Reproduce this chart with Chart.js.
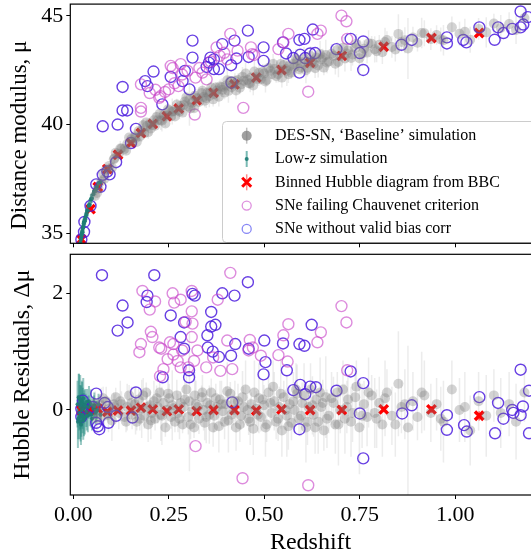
<!DOCTYPE html>
<html>
<head>
<meta charset="utf-8">
<script src="https://cdn.jsdelivr.net/npm/chart.js@4.4.1/dist/chart.umd.min.js"></script>
<style>
  body { margin: 0; background: #fff; overflow: hidden; width: 531px; height: 558px; position: relative; }
  #hubble { position: absolute; left: 0; top: 0; }
  #resid { position: absolute; left: 0; top: 250px; }
</style>
</head>
<body>
<canvas id="hubble" width="600" height="260" style="width:600px;height:260px"></canvas>
<canvas id="resid" width="600" height="308" style="width:600px;height:308px"></canvas>
<script>
// ---- data ----
const xTicks = [0, 0.25, 0.5, 0.75, 1.0];
const muTicks = [35, 40, 45];
const resTicks = [0, 2];

const legendLabels = [
  "DES-SN, \u2018Baseline\u2019 simulation",
  "Low-z simulation",
  "Binned Hubble diagram from BBC",
  "SNe failing Chauvenet criterion",
  "SNe without valid bias corr"
];

// binned Hubble diagram (red crosses)
const binZ = [0.021, 0.045, 0.064, 0.089, 0.117, 0.151, 0.177, 0.208, 0.245, 0.276,
  0.323, 0.367, 0.422, 0.479, 0.545, 0.62, 0.703, 0.8125, 0.9375, 1.0625];
const binMu = [34.72, 36.11, 37.13, 37.95, 38.61, 39.15, 39.61, 40.03, 40.38, 40.74,
  41.12, 41.46, 41.85, 42.16, 42.51, 42.84, 43.16, 43.58, 43.98, 44.21];
const binRes = [0.0, 0.01, 0.02, -0.03, -0.01, -0.01, 0.04, 0.01, -0.02, 0.01,
  -0.02, 0.0, 0.0, -0.01, 0.01, 0.0, 0.0, 0.01, 0.01, -0.1];
const binErr = [0.05, 0.04, 0.04, 0.03, 0.03, 0.03, 0.03, 0.03, 0.03, 0.03,
  0.03, 0.03, 0.03, 0.03, 0.03, 0.04, 0.04, 0.05, 0.06, 0.08];

// DES-SN baseline simulation (grey)
const desZ = [0.057, 0.066, 0.073, 0.081, 0.086, 0.094, 0.101, 0.106, 0.111, 0.119,
  0.126, 0.134, 0.141, 0.146, 0.154, 0.161, 0.166, 0.171, 0.179, 0.186,
  0.191, 0.196, 0.201, 0.206, 0.211, 0.214, 0.221, 0.226, 0.229, 0.236,
  0.241, 0.244, 0.251, 0.256, 0.259, 0.266, 0.271, 0.274, 0.281, 0.286,
  0.289, 0.296, 0.301, 0.304, 0.311, 0.316, 0.321, 0.329, 0.336, 0.341,
  0.344, 0.351, 0.356, 0.361, 0.369, 0.376, 0.381, 0.384, 0.391, 0.399,
  0.406, 0.411, 0.419, 0.426, 0.431, 0.439, 0.446, 0.451, 0.459, 0.466,
  0.471, 0.479, 0.486, 0.491, 0.499, 0.506, 0.511, 0.519, 0.526, 0.531,
  0.539, 0.546, 0.551, 0.559, 0.566, 0.571, 0.579, 0.586, 0.591, 0.599,
  0.609, 0.616, 0.621, 0.629, 0.636, 0.641, 0.649, 0.656, 0.661, 0.669,
  0.681, 0.686, 0.691, 0.699, 0.711, 0.719, 0.731, 0.741, 0.749, 0.761,
  0.769, 0.781, 0.789, 0.801, 0.809, 0.821, 0.834, 0.851, 0.859, 0.876,
  0.889, 0.901, 0.919, 0.936, 0.951, 0.969, 0.991, 1.011, 1.039, 1.061,
  1.081, 1.101, 1.119, 1.141, 1.159, 1.181,
  0.062, 0.078, 0.092, 0.108, 0.123, 0.138, 0.152, 0.163, 0.174, 0.183,
  0.193, 0.203, 0.218, 0.232, 0.248, 0.262, 0.278, 0.292, 0.307, 0.318,
  0.326, 0.338, 0.348, 0.358, 0.366, 0.373, 0.388, 0.396, 0.403, 0.414,
  0.423, 0.436, 0.443, 0.456, 0.463, 0.474, 0.483, 0.496, 0.503, 0.516,
  0.523, 0.536, 0.543, 0.556, 0.563, 0.576, 0.583, 0.596, 0.604, 0.613,
  0.626, 0.633, 0.646, 0.653, 0.664, 0.676, 0.694, 0.706, 0.716, 0.727,
  0.738, 0.756, 0.773, 0.794, 0.816, 0.843, 0.868, 0.912, 0.962, 1.025];
const desMu = [36.72, 37.05, 37.38, 37.5, 37.93, 38.1, 38.02, 38.4, 38.7, 38.65,
  38.9, 38.88, 39.1, 39.4, 39.2, 39.45, 39.2, 39.7, 39.7, 39.6,
  40.1, 39.65, 40.05, 39.98, 40.2, 39.95, 40.2, 40.5, 40.2, 40.42,
  40.05, 40.4, 40.65, 40.38, 40.6, 40.37, 40.92, 40.65, 40.87, 40.55,
  40.9, 41.25, 40.83, 41.15, 41.0, 40.75, 41.23, 41.04, 41.45, 41.27,
  41.1, 41.47, 41.3, 41.7, 41.4, 41.57, 41.28, 41.75, 41.6, 41.8,
  41.55, 42.0, 41.85, 41.57, 42.05, 41.85, 42.02, 42.35, 41.9, 42.17,
  41.8, 42.18, 42.38, 42.08, 42.35, 42.05, 42.6, 42.32, 42.55, 42.22,
  42.5, 42.16, 42.74, 42.47, 42.7, 42.39, 42.65, 42.95, 42.55, 42.87,
  42.5, 42.84, 43.15, 42.8, 43.08, 42.72, 43.0, 42.62, 43.2, 42.9,
  43.16, 42.8, 43.43, 43.15, 43.04, 43.41, 43.22, 43.71, 43.05, 43.49,
  43.31, 43.72, 43.46, 43.67, 43.33, 43.89, 43.57, 44.17, 43.8, 43.5,
  44.0, 43.76, 44.2, 43.93, 44.12, 43.88, 44.47, 44.18, 43.9, 44.4,
  44.24, 44.65, 44.44, 44.62, 44.35, 44.9,
  36.85, 37.75, 37.92, 38.45, 38.9, 38.8, 39.32, 39.38, 39.45, 39.97,
  39.93, 39.82, 40.35, 40.18, 40.7, 40.6, 40.6, 41.06, 40.75, 41.33,
  41.2, 41.55, 41.21, 41.48, 41.16, 41.7, 41.72, 41.47, 42.04, 41.72,
  42.01, 41.69, 42.2, 42.05, 41.89, 42.44, 42.1, 42.43, 41.98, 42.47,
  42.79, 42.31, 42.78, 42.56, 42.31, 42.8, 43.03, 42.63, 43.02, 42.61,
  42.94, 42.59, 43.24, 43.09, 42.86, 43.26, 42.88, 43.53, 43.27, 43.06,
  43.52, 43.27, 43.74, 43.37, 43.8, 43.45, 43.88, 44.21, 43.91, 44.27];
const desRes = [0.12, -0.05, 0.08, -0.1, 0.15, 0.02, -0.18, 0.1, 0.22, -0.05,
  0.1, -0.12, 0.05, 0.25, -0.08, 0.1, -0.2, 0.18, 0.02, -0.1,
  0.3, -0.25, 0.08, -0.05, 0.15, -0.15, 0.05, 0.3, -0.08, 0.12,
  -0.3, 0.0, 0.2, -0.12, 0.08, -0.2, 0.25, -0.05, 0.12, -0.25,
  0.05, 0.35, -0.12, 0.15, -0.02, -0.3, 0.1, -0.15, 0.22, 0.0,
  -0.22, 0.12, -0.08, 0.3, -0.1, 0.05, -0.28, 0.18, -0.02, 0.1,
  -0.18, 0.28, 0.0, -0.3, 0.15, -0.1, 0.05, 0.35, -0.15, 0.1,
  -0.32, 0.02, 0.2, -0.12, 0.08, -0.25, 0.3, -0.05, 0.15, -0.2,
  0.05, -0.35, 0.22, -0.1, 0.1, -0.22, 0.0, 0.28, -0.15, 0.12,
  -0.3, 0.05, 0.35, -0.08, 0.18, -0.2, 0.05, -0.35, 0.22, -0.1,
  0.12, -0.25, 0.3, 0.0, -0.15, 0.18, -0.05, 0.4, -0.3, 0.1,
  -0.12, 0.25, -0.05, 0.12, -0.25, 0.3, -0.1, 0.45, 0.05, -0.3,
  0.15, -0.12, 0.25, -0.05, 0.1, -0.2, 0.35, 0.0, -0.35, 0.15,
  -0.1, 0.25, -0.05, 0.1, -0.2, 0.3,
  -0.15, 0.2, -0.08, 0.05, 0.15, -0.2, 0.12, -0.02, -0.15, 0.25,
  0.05, -0.18, 0.2, -0.1, 0.28, 0.03, -0.15, 0.18, -0.25, 0.25,
  0.05, 0.3, -0.12, 0.08, -0.3, 0.2, 0.1, -0.2, 0.32, -0.08,
  0.15, -0.25, 0.22, 0.0, -0.2, 0.3, -0.08, 0.18, -0.3, 0.12,
  0.4, -0.15, 0.28, 0.0, -0.28, 0.15, 0.35, -0.1, 0.25, -0.2,
  0.08, -0.3, 0.3, 0.12, -0.15, 0.2, -0.25, 0.35, 0.05, -0.2,
  0.22, -0.1, 0.3, -0.15, 0.2, -0.25, 0.1, 0.3, -0.15, 0.05];
const desErr = [0.2, 0.15, 0.3, 0.18, 0.25, 0.12, 0.35, 0.2, 0.16, 0.28,
  0.22, 0.14, 0.4, 0.18, 0.25, 0.3, 0.15, 0.2, 0.5, 0.22,
  0.17, 0.3, 0.24, 0.15, 0.35, 0.2, 0.28, 0.18, 0.45, 0.22,
  0.16, 0.3, 0.25, 0.2, 0.6, 0.18, 0.27, 0.33, 0.2, 0.15,
  0.38, 0.24, 0.3, 1.2, 0.22, 0.18, 0.4, 0.26, 0.2, 0.35,
  0.3, 0.16, 0.5, 0.24, 0.28, 0.2, 0.45, 0.32, 0.22, 0.3,
  0.55, 0.2, 0.26, 0.4, 0.3, 0.24, 0.35, 0.5, 0.28, 0.2,
  0.45, 0.3, 0.6, 0.25, 0.35, 0.3, 0.4, 0.22, 0.5, 0.3,
  0.35, 0.45, 0.28, 0.7, 0.32, 0.3, 0.4, 0.5, 0.26, 0.35,
  0.6, 0.3, 0.45, 0.38, 0.3, 0.55, 0.4, 0.35, 0.7, 0.3,
  0.45, 0.5, 0.35, 0.4, 0.6, 0.38, 0.5, 0.45, 0.8, 0.4,
  0.5, 0.35, 0.6, 0.45, 0.55, 0.4, 0.5, 0.9, 0.45, 1.4,
  0.5, 0.4, 0.6, 0.5, 0.45, 0.7, 0.5, 0.55, 0.6, 0.5,
  0.7, 0.45, 0.6, 0.55, 0.65, 0.5,
  0.25, 0.2, 0.3, 0.22, 0.35, 0.18, 0.28, 0.4, 0.2, 0.3,
  0.25, 0.32, 0.22, 0.5, 0.28, 0.2, 0.35, 0.3, 0.25, 0.4,
  0.22, 0.3, 0.45, 0.28, 0.33, 0.25, 0.4, 0.3, 0.5, 0.26,
  0.35, 0.3, 0.45, 0.28, 0.4, 0.55, 0.3, 0.35, 0.5, 0.3,
  0.45, 0.38, 0.6, 0.35, 0.4, 0.5, 0.45, 0.35, 0.55, 0.4,
  0.5, 0.45, 0.6, 0.4, 0.5, 0.45, 0.7, 0.5, 0.45, 0.6,
  0.5, 0.55, 0.6, 0.5, 0.65, 0.55, 0.6, 0.7, 0.55, 0.6];

// low-z simulation (teal)
const lowZ = [0.011, 0.013, 0.015, 0.016, 0.018, 0.019, 0.02, 0.021, 0.022, 0.023,
  0.024, 0.025, 0.026, 0.027, 0.029, 0.03, 0.032, 0.034, 0.036, 0.038,
  0.04, 0.043, 0.046, 0.049, 0.052, 0.055, 0.058, 0.062, 0.066, 0.071,
  0.012, 0.014, 0.017, 0.018, 0.02, 0.022, 0.024, 0.026, 0.028, 0.031,
  0.035, 0.041, 0.047, 0.054, 0.06];
const lowMu = [33.5, 33.75, 34.15, 34.25, 34.55, 34.55, 34.75, 34.8, 34.95, 35.05,
  35.05, 35.25, 35.25, 35.45, 35.55, 35.55, 35.75, 35.85, 36.05, 36.05,
  36.25, 36.3, 36.55, 36.6, 36.8, 36.95, 36.95, 37.15, 37.3, 37.35,
  33.7, 34.0, 34.35, 34.45, 34.7, 34.9, 35.1, 35.3, 35.5, 35.65,
  35.95, 36.3, 36.6, 36.9, 37.05];
const lowRes = [0.1, -0.15, 0.2, -0.05, 0.05, -0.2, 0.12, -0.1, 0.0, 0.15,
  -0.08, 0.08, -0.18, 0.03, 0.1, -0.12, 0.06, -0.03, 0.14, -0.1,
  0.05, -0.06, 0.1, -0.15, 0.02, 0.08, -0.05, 0.0, 0.1, -0.08,
  -0.2, 0.22, -0.12, 0.18, -0.25, 0.1, -0.1, 0.2, -0.15, 0.08,
  -0.1, 0.15, -0.08, 0.05, -0.02];
const lowErr = [0.4, 0.35, 0.42, 0.3, 0.38, 0.34, 0.3, 0.36, 0.28, 0.33,
  0.25, 0.3, 0.33, 0.26, 0.24, 0.3, 0.22, 0.26, 0.22, 0.28,
  0.2, 0.22, 0.25, 0.2, 0.18, 0.22, 0.2, 0.16, 0.18, 0.15,
  0.45, 0.4, 0.38, 0.42, 0.35, 0.4, 0.3, 0.35, 0.3, 0.28,
  0.25, 0.26, 0.22, 0.2, 0.18];

// SNe failing Chauvenet criterion (magenta)
const chauTopZ = [0.177, 0.177, 0.177, 0.225, 0.228, 0.25, 0.255, 0.26, 0.281, 0.275,
  0.299, 0.32, 0.318, 0.338, 0.349, 0.375, 0.383, 0.411, 0.403, 0.445,
  0.468, 0.473, 0.55, 0.563, 0.537, 0.648, 0.639, 0.702, 0.715, 0.717,
  0.615, 0.2, 0.215, 0.24, 0.265, 0.285, 0.33, 0.36, 0.395, 0.43, 0.465];
const chauTopMu = [41.85, 40.77, 40.6, 41.23, 41.3, 41.62, 42.7, 42.6, 42.78, 41.77,
  42.47, 42.16, 40.46, 42.39, 42.08, 43.55, 43.16, 44.17, 43.0, 40.77,
  43.24, 43.2, 43.78, 44.17, 43.47, 44.32, 44.17, 45.01, 44.75, 43.94,
  41.51, 41.45, 41.6, 41.5, 41.9, 42.3, 42.6, 42.9, 43.3, 43.4, 43.55];
const chauResZ = [0.411, 0.181, 0.214, 0.2, 0.26, 0.264, 0.281, 0.31, 0.31, 0.312,
  0.31, 0.378, 0.294, 0.203, 0.207, 0.177, 0.173, 0.225, 0.23, 0.253,
  0.262, 0.247, 0.262, 0.273, 0.285, 0.325, 0.316, 0.301, 0.236, 0.227,
  0.281, 0.348, 0.366, 0.385, 0.403, 0.416, 0.462, 0.459, 0.47, 0.491,
  0.32, 0.443, 0.702, 0.715, 0.563, 0.55, 0.648, 0.639, 0.537, 0.561,
  0.717, 0.615];
const chauRes = [2.35, 2.04, 1.86, 1.72, 2.0, 1.84, 1.89, 2.04, 1.69, 1.48,
  1.25, 1.89, 1.51, 1.34, 1.25, 1.13, 0.99, 1.07, 1.05, 1.16,
  1.13, 0.87, 0.95, 0.84, 1.02, 1.02, 0.84, 0.73, 0.7, 0.58,
  0.73, 0.73, 0.9, 0.67, 1.19, 0.7, 1.2, 1.02, 1.07, 0.93,
  -0.62, -1.17, 1.78, 1.5, 1.47, 1.28, 1.33, 1.16, 0.94, 0.83,
  0.68, -1.29];

// SNe without valid bias correction (blue)
const biasTopZ = [0.021, 0.028, 0.029, 0.045, 0.06, 0.071, 0.077, 0.089, 0.095, 0.112,
  0.164, 0.151, 0.077, 0.116, 0.129, 0.141, 0.129, 0.194, 0.188, 0.21,
  0.233, 0.255, 0.286, 0.292, 0.304, 0.312, 0.312, 0.349, 0.355, 0.359,
  0.368, 0.381, 0.368, 0.39, 0.422, 0.427, 0.413, 0.414, 0.457, 0.459,
  0.498, 0.498, 0.549, 0.557, 0.576, 0.592, 0.605, 0.592, 0.594, 0.607,
  0.62, 0.627, 0.633, 0.689, 0.726, 0.75, 0.759, 0.759, 0.859, 0.886,
  0.978, 0.978, 1.021, 1.029, 1.063, 1.112, 1.103, 1.126, 1.149, 1.171,
  1.178, 1.171, 1.19];
const biasTopMu = [34.72, 35.06, 35.52, 36.26, 37.25, 37.14, 37.69, 37.84, 37.71, 38.27,
  39.8, 39.15, 39.92, 40.0, 40.65, 40.65, 41.73, 41.77, 42.0, 42.44,
  40.93, 42.19, 42.0, 42.47, 41.62, 43.08, 43.86, 42.65, 42.85, 43.08,
  42.55, 42.55, 43.0, 43.7, 43.86, 43.04, 42.73, 41.93, 44.32, 43.11,
  43.55, 42.93, 43.78, 43.27, 43.06, 43.89, 43.94, 42.39, 43.21, 43.06,
  43.27, 44.37, 43.29, 43.47, 43.94, 43.29, 43.82, 42.51, 43.67, 43.89,
  44.01, 43.73, 43.89, 43.78, 44.47, 44.47, 43.9, 44.21, 44.4, 44.47,
  44.6, 45.2, 44.94];
const biasResZ = [0.021, 0.021, 0.025, 0.06, 0.06, 0.068, 0.064, 0.082, 0.09, 0.092,
  0.112, 0.038, 0.051, 0.075, 0.212, 0.457, 0.129, 0.194, 0.192, 0.116,
  0.142, 0.255, 0.29, 0.312, 0.318, 0.39, 0.422, 0.361, 0.361, 0.372,
  0.281, 0.29, 0.351, 0.352, 0.365, 0.381, 0.424, 0.413, 0.459, 0.303,
  0.303, 0.234, 0.5, 0.503, 0.498, 0.164, 0.416, 0.155, 0.624, 0.549,
  0.592, 0.605, 0.559, 0.576, 0.594, 0.607, 0.62, 0.635, 0.689, 0.726,
  0.759, 0.75, 0.592, 0.759, 0.861, 0.886, 0.978, 0.978, 1.023, 1.03,
  1.063, 1.112, 1.126, 1.149, 1.152, 1.171, 1.177, 1.104, 1.171, 1.193,
  1.193];
const biasRes = [0.02, -0.12, 0.16, 0.28, -0.22, -0.33, -0.28, 0.12, 0.05, -0.22,
  -0.1, -0.01, 0.05, 2.31, 2.31, 2.19, 1.79, 1.96, 1.85, 1.36,
  1.5, 1.62, 1.5, 1.99, 1.96, 2.0, 1.96, 1.68, 1.43, 1.46,
  1.25, 1.05, 1.28, 1.07, 1.0, 0.91, 1.13, 0.93, 1.05, 0.68,
  0.56, 0.56, 1.19, 0.82, 0.61, 0.3, 0.13, -0.13, 1.46, 1.14,
  1.13, 1.1, 0.68, 0.34, 0.43, 0.27, 0.4, 0.39, 0.33, 0.66,
  0.46, -0.06, -0.33, -0.83, -0.06, 0.08, -0.09, -0.34, -0.26, -0.37,
  0.22, 0.12, -0.15, 0.0, -0.05, -0.09, 0.06, -0.4, 0.69, 0.33,
  -0.4];

// ---- colours ----
const GREY = "rgba(120,120,120,0.33)";
const GREY_ERR = "rgba(150,150,150,0.18)";
const TEAL = "rgba(30,125,118,0.9)";
const TEAL_ERR = "rgba(30,135,125,0.45)";
const MAGENTA = "rgba(200,70,200,0.62)";
const BLUE = "rgba(78,30,222,0.85)";
const FONT = "'Liberation Serif', 'DejaVu Serif', serif";

const pts = (xs, ys) => xs.map((x, i) => ({ x: x, y: ys[i] }));

// vertical error bars, drawn under the markers
const errorBars = {
  id: "errorBars",
  beforeDatasetsDraw(chart) {
    const { ctx, chartArea: a, scales: { x, y } } = chart;
    ctx.save();
    ctx.beginPath();
    ctx.rect(a.left, a.top, a.right - a.left, a.bottom - a.top);
    ctx.clip();
    chart.data.datasets.forEach((ds) => {
      if (!ds.errors) return;
      ctx.strokeStyle = ds.errorColor;
      ctx.lineWidth = ds.errorWidth || 1;
      ds.data.forEach((p, i) => {
        const e = ds.errors[i] || 0.3;
        const px = x.getPixelForValue(p.x);
        ctx.beginPath();
        ctx.moveTo(px, y.getPixelForValue(p.y - e));
        ctx.lineTo(px, y.getPixelForValue(p.y + e));
        ctx.stroke();
      });
    });
    ctx.restore();
  }
};

// black frame round the axes
const frame = {
  id: "frame",
  afterDraw(chart) {
    const { ctx, chartArea: a } = chart;
    ctx.save();
    ctx.strokeStyle = "#000";
    ctx.lineWidth = 1.2;
    ctx.strokeRect(a.left, a.top, a.right - a.left, a.bottom - a.top);
    ctx.restore();
  }
};

// legend box inside the upper panel
const legendBox = {
  id: "legendBox",
  afterDatasetsDraw(chart) {
    const ctx = chart.ctx;
    ctx.save();
    ctx.fillStyle = "rgba(255,255,255,0.9)";
    ctx.strokeStyle = "#cccccc";
    ctx.lineWidth = 1;
    ctx.beginPath();
    ctx.roundRect(222.5, 121.5, 400, 121, 4);
    ctx.fill();
    ctx.stroke();

    const mx = 246.7, tx = 275;
    ctx.font = "16px " + FONT;
    ctx.textBaseline = "middle";
    ctx.fillStyle = "#000";
    legendLabels.forEach((lab, i) => {
      const cy = 135.7 + i * 23.3;
      ctx.save();
      if (i === 0) {
        ctx.strokeStyle = "rgba(150,150,150,0.6)"; ctx.lineWidth = 1.5;
        ctx.beginPath(); ctx.moveTo(mx, cy - 8); ctx.lineTo(mx, cy + 8); ctx.stroke();
        ctx.fillStyle = "rgba(128,128,128,0.75)";
        ctx.beginPath(); ctx.arc(mx, cy, 5, 0, Math.PI * 2); ctx.fill();
      } else if (i === 1) {
        ctx.strokeStyle = "rgba(32,140,130,0.6)"; ctx.lineWidth = 2;
        ctx.beginPath(); ctx.moveTo(mx, cy - 8); ctx.lineTo(mx, cy + 8); ctx.stroke();
        ctx.fillStyle = TEAL;
        ctx.beginPath(); ctx.arc(mx, cy, 2, 0, Math.PI * 2); ctx.fill();
      } else if (i === 2) {
        ctx.strokeStyle = "rgba(255,60,60,0.6)"; ctx.lineWidth = 1.5;
        ctx.beginPath(); ctx.moveTo(mx, cy - 8); ctx.lineTo(mx, cy + 8); ctx.stroke();
        ctx.strokeStyle = "red"; ctx.lineWidth = 3;
        ctx.beginPath();
        ctx.moveTo(mx - 4.5, cy - 4.5); ctx.lineTo(mx + 4.5, cy + 4.5);
        ctx.moveTo(mx + 4.5, cy - 4.5); ctx.lineTo(mx - 4.5, cy + 4.5);
        ctx.stroke();
      } else {
        ctx.strokeStyle = i === 3 ? "rgba(200,70,200,0.6)" : "rgba(70,70,240,0.65)";
        ctx.lineWidth = 1.3;
        ctx.beginPath(); ctx.arc(mx, cy, 4.5, 0, Math.PI * 2); ctx.stroke();
      }
      ctx.restore();
      if (i === 1) {
        // "Low-z simulation" with an italic z
        let xx = tx;
        ctx.fillText("Low-", xx, cy); xx += ctx.measureText("Low-").width;
        ctx.font = "italic 16px " + FONT;
        ctx.fillText("z", xx, cy); xx += ctx.measureText("z").width;
        ctx.font = "16px " + FONT;
        ctx.fillText(" simulation", xx, cy);
      } else {
        ctx.fillText(lab, tx, cy);
      }
    });
    ctx.restore();
  }
};

function xScale(showLabels, height) {
  return {
    type: "linear",
    min: -0.0079,
    max: 1.25,
    afterBuildTicks: (s) => { s.ticks = xTicks.map((v) => ({ value: v })); },
    afterFit: (s) => { s.height = height; },
    border: { display: false },
    grid: { drawOnChartArea: false, color: "#000", tickLength: 4, tickWidth: 1 },
    ticks: {
      display: showLabels,
      color: "#000",
      padding: 3,
      font: { family: FONT, size: 22 },
      callback: (v) => Number(v).toFixed(2)
    },
    title: {
      display: showLabels,
      text: "Redshift",
      color: "#000",
      font: { family: FONT, size: 24 },
      padding: { top: 0, bottom: 1 }
    }
  };
}

function yScale(min, max, ticks, title, titleSize, titlePad) {
  return {
    type: "linear",
    min: min,
    max: max,
    afterBuildTicks: (s) => { s.ticks = ticks.map((v) => ({ value: v })); },
    afterFit: (s) => { s.width = 70.3; },
    border: { display: false },
    grid: { drawOnChartArea: false, color: "#000", tickLength: 4, tickWidth: 1 },
    // tiny lineHeight so the top label does not push the plot area down
    ticks: { color: "#000", padding: 3, font: { family: FONT, size: 22, lineHeight: 0.1 } },
    title: {
      display: true,
      text: title,
      color: "#000",
      font: { family: FONT, size: titleSize },
      padding: { top: titlePad, bottom: 0 }
    }
  };
}

function datasets(desY, lowY, chauX, chauY, biasX, biasY, binY) {
  return [
    {
      data: pts(desZ, desY), errors: desErr, errorColor: GREY_ERR, errorWidth: 1.5,
      pointRadius: 5, pointBackgroundColor: GREY, pointBorderWidth: 0, pointBorderColor: "transparent"
    },
    {
      data: pts(lowZ, lowY), errors: lowErr, errorColor: TEAL_ERR, errorWidth: 2,
      pointRadius: 2, pointBackgroundColor: TEAL, pointBorderWidth: 0, pointBorderColor: "transparent"
    },
    {
      data: pts(chauX, chauY),
      pointRadius: 5.5, pointBackgroundColor: "transparent", pointBorderColor: MAGENTA, pointBorderWidth: 1.4
    },
    {
      data: pts(biasX, biasY),
      pointRadius: 5.5, pointBackgroundColor: "transparent", pointBorderColor: BLUE, pointBorderWidth: 1.4
    },
    {
      data: pts(binZ, binY), errors: binErr, errorColor: "rgba(255,0,0,0.6)", errorWidth: 1.5,
      pointStyle: "crossRot", pointRadius: 6, pointBorderColor: "red", pointBorderWidth: 3.4
    }
  ];
}

const common = {
  responsive: false,
  animation: false,
  events: [],
  plugins: { legend: { display: false }, tooltip: { enabled: false } }
};

new Chart(document.getElementById("hubble"), {
  type: "scatter",
  data: { datasets: datasets(desMu, lowMu, chauTopZ, chauTopMu, biasTopZ, biasTopMu, binMu) },
  options: Object.assign({}, common, {
    layout: { autoPadding: false, padding: { left: 0, top: 3.3, right: 49.2, bottom: 0 } },
    scales: {
      x: xScale(false, 16.7),
      // trailing no-break spaces nudge the rotated title down to where the original sits
      y: yScale(34.54, 45.54, muTicks, "Distance modulus, \u03bc\u00a0\u00a0\u00a0\u00a0", 23, 6)
    }
  }),
  plugins: [errorBars, legendBox, frame]
});

new Chart(document.getElementById("resid"), {
  type: "scatter",
  data: { datasets: datasets(desRes, lowRes, chauResZ, chauRes, biasResZ, biasRes, binRes) },
  options: Object.assign({}, common, {
    layout: { autoPadding: false, padding: { left: 0, top: 4.3, right: 49.2, bottom: 0 } },
    scales: {
      x: xScale(true, 63),
      y: yScale(-1.457, 2.668, resTicks, "Hubble Residuals, \u0394\u03bc", 24, 8)
    }
  }),
  plugins: [errorBars, frame]
});
</script>
</body>
</html>
